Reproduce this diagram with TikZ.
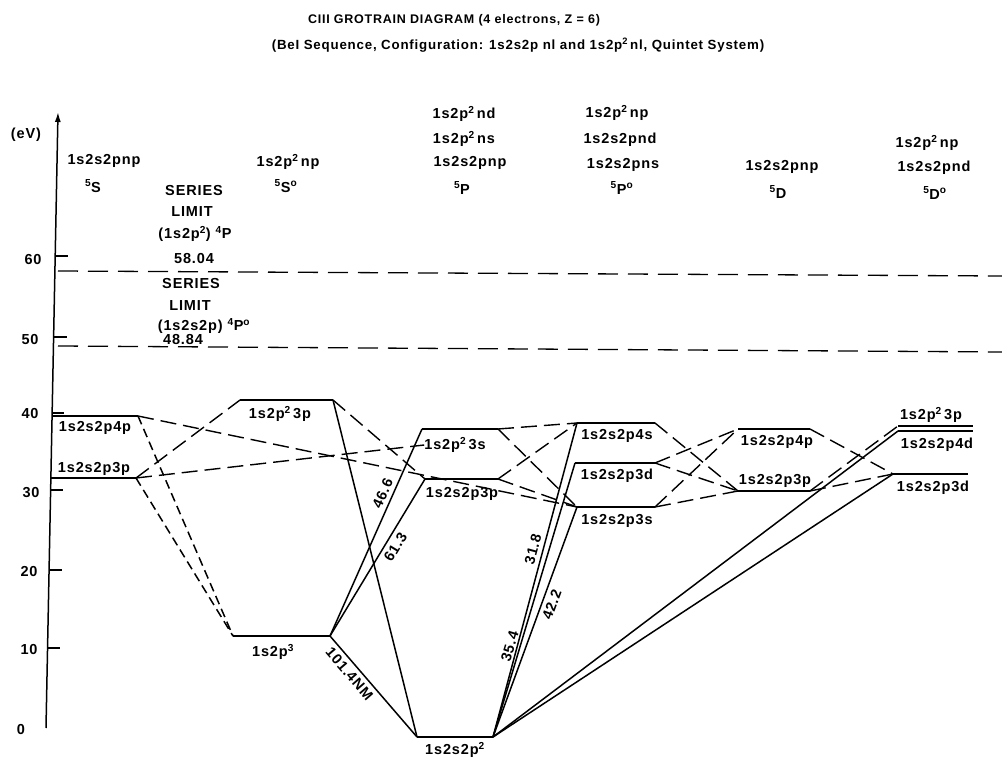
\documentclass[tikz,border=0pt]{standalone}
\usepackage{fontspec}
\setmainfont{Liberation Sans}[LetterSpace=6]
\usetikzlibrary{arrows.meta}
\newcommand{\sqd}{\textsuperscript{2}}
\newcommand{\up}[1]{\textsuperscript{#1}}
\begin{document}
\begin{tikzpicture}[x=1pt,y=-1pt,
  lvl/.style={line width=2pt},
  trn/.style={line width=1.5pt},
  ldash/.style={line width=1.4pt, dash pattern=on 16pt off 7pt},
  sdash/.style={line width=1.5pt, dash pattern=on 9pt off 5pt},
  lim/.style={line width=1.3pt, dash pattern=on 20pt off 10pt},
  lab/.style={font=\fontsize{14.5}{16}\selectfont\bfseries, inner sep=0pt},
  ttl/.style={font=\fontsize{12.5}{14}\selectfont\bfseries, inner sep=0pt},
  wl/.style={font=\fontsize{14.5}{16}\selectfont\bfseries, inner sep=4pt, sloped},
  tick/.style={line width=1.3pt}]
\useasboundingbox (0,0) rectangle (1002,759);
% titles
\node[ttl] (t1) at (454,20) {CIII GROTRAIN DIAGRAM (4 electrons, Z = 6)};
\node[ttl, font=\fontsize{13.3}{15}\selectfont\bfseries] (t2) at (518,45) {(BeI Sequence, Configuration: 1s2s2p nl and 1s2p\sqd\,nl, Quintet System)};
% axis
\coordinate (axB) at (46,728);
\coordinate (axT) at (58,112);
\draw[line width=1.5pt,-{Latex[length=10pt,width=6pt]}] (axB) -- (axT);
\node[lab] (eV) at (26,135) {(eV)};
\draw[tick] (55,256) -- (68,256); \node[lab] (y60) at (33,260) {60};
\draw[tick] (54,337) -- (67,337); \node[lab] (y50) at (30,340) {50};
\draw[line width=2.2pt] (52,413) -- (64,413); \node[lab] (y40) at (30,414) {40};
\draw[tick] (51,490) -- (63,490); \node[lab] (y30) at (31,493) {30};
\draw[tick] (49,570) -- (62,570); \node[lab] (y20) at (29,572) {20};
\draw[tick] (48,648) -- (60,648); \node[lab] (y10) at (29,650) {10};
\node[lab] (y0) at (21,730) {0};
% series limits
\coordinate (limAL) at (58,271); \coordinate (limAR) at (1002,276);
\coordinate (limBL) at (58,346); \coordinate (limBR) at (1002,352);
\draw[lim] (limAL) -- (limAR);
\draw[lim] (limBL) -- (limBR);
\node[lab] (sl1a) at (194,191) {SERIES};
\node[lab] (sl1b) at (192,212) {LIMIT};
\node[lab] (sl1c) at (195,234) {(1s2p\sqd) \up{4}P};
\node[lab] (sl1d) at (194,259) {58.04};
\node[lab] (sl2a) at (191,284) {SERIES};
\node[lab] (sl2b) at (190,306) {LIMIT};
\node[lab] (sl2c) at (204,326) {(1s2s2p) \up{4}P\up{o}};
\node[lab] (sl2d) at (183,340) {48.84};
% column headers
\node[lab] (h1a) at (104,161) {1s2s2pnp};
\node[lab] (h1b) at (93,186) {\up{5}S};
\node[lab] (h2a) at (288,162) {1s2p\sqd\,np};
\node[lab] (h2b) at (286,186) {\up{5}S\up{o}};
\node[lab] (h3a) at (464,114) {1s2p\sqd\,nd};
\node[lab] (h3b) at (464,139) {1s2p\sqd\,ns};
\node[lab] (h3c) at (470,163) {1s2s2pnp};
\node[lab] (h3d) at (462,188) {\up{5}P};
\node[lab] (h4a) at (617,113) {1s2p\sqd\,np};
\node[lab] (h4b) at (620,140) {1s2s2pnd};
\node[lab] (h4c) at (623,165) {1s2s2pns};
\node[lab] (h4d) at (622,188) {\up{5}P\up{o}};
\node[lab] (h5a) at (782,167) {1s2s2pnp};
\node[lab] (h5b) at (778,192) {\up{5}D};
\node[lab] (h6a) at (927,143) {1s2p\sqd\,np};
\node[lab] (h6b) at (934,168) {1s2s2pnd};
\node[lab] (h6c) at (935,193) {\up{5}D\up{o}};
% level end points
\coordinate (s4pL) at (52,416); \coordinate (s4pR) at (138,416);
\coordinate (s3pL) at (51,478); \coordinate (s3pR) at (136,478);
\coordinate (o3pL) at (240,400); \coordinate (o3pR) at (333,400);
\coordinate (o2pL) at (233,636); \coordinate (o2pR) at (330,636);
\coordinate (p3sL) at (422,429); \coordinate (p3sR) at (498,429);
\coordinate (p3pL) at (425,479); \coordinate (p3pR) at (498,479);
\coordinate (gL) at (417,737); \coordinate (gR) at (493,737);
\coordinate (q4sL) at (577,423); \coordinate (q4sR) at (655,423);
\coordinate (q3dL) at (575,463); \coordinate (q3dR) at (655,463);
\coordinate (q3sL) at (577,507); \coordinate (q3sR) at (655,507);
\coordinate (d4pL) at (738,429); \coordinate (d4pR) at (810,429);
\coordinate (d3pL) at (738,491); \coordinate (d3pR) at (810,491);
\coordinate (e3pL) at (898,426); \coordinate (e3pR) at (973,426);
\coordinate (e4dL) at (898,431); \coordinate (e4dR) at (973,431);
\coordinate (e3dL) at (893,474); \coordinate (e3dR) at (968,474);
% levels
\foreach \a in {s4p,s3p,o3p,o2p,p3s,p3p,g,q4s,q3d,q3s,d4p,d3p,e3p,e4d,e3d}
  \draw[lvl] (\a L) -- (\a R);
% level labels
\node[lab] (s4pT) at (95,428) {1s2s2p4p};
\node[lab] (s3pT) at (94,469) {1s2s2p3p};
\node[lab] (o3pT) at (280,414) {1s2p\sqd\,3p};
\node[lab] (o2pT) at (273,652) {1s2p\up{3}};
\node[lab] (p3sT) at (455,445) {1s2p\sqd\,3s};
\node[lab] (p3pT) at (462,494) {1s2s2p3p};
\node[lab] (gT) at (455,750) {1s2s2p\sqd};
\node[lab] (q4sT) at (617,436) {1s2s2p4s};
\node[lab] (q3dT) at (617,476) {1s2s2p3d};
\node[lab] (q3sT) at (617,521) {1s2s2p3s};
\node[lab] (d4pT) at (777,442) {1s2s2p4p};
\node[lab] (d3pT) at (775,481) {1s2s2p3p};
\node[lab] (e3pT) at (931,415) {1s2p\sqd\,3p};
\node[lab] (e4dT) at (937,445) {1s2s2p4d};
\node[lab] (e3dT) at (933,488) {1s2s2p3d};
% solid transitions
\draw[trn] (o2pR) -- node[wl,above,pos=0.67] {46.6} (p3sL);
\draw[trn] (o2pR) -- node[wl,below,pos=0.6] {61.3} (p3pL);
\draw[trn] (o2pR) -- node[wl,below,pos=0.31] {101.4NM} (gL);
\draw[trn] (o3pR) -- (gL);
\draw[trn] (gR) -- node[wl,above,pos=0.59] {31.8} (q4sL);
\draw[trn] (gR) -- node[wl,above,pos=0.32] {35.4} (q3dL);
\draw[trn] (gR) -- node[wl,below,pos=0.59] {42.2} (q3sL);
\draw[trn] (gR) -- (e4dL);
\draw[trn] (gR) -- (e3dL);
% dashed transitions
\draw[sdash] (s4pR) -- (o2pL);
\draw[sdash] (s3pR) -- (o2pL);
\draw[ldash] (s3pR) -- (o3pL);
\draw[ldash] (s4pR) -- (q3sL);
\draw[ldash] (s3pR) -- (p3sT.west);
\draw[ldash] (o3pR) -- (p3pL);
\draw[ldash] (p3sR) -- (q4sL);
\draw[ldash] (p3sR) -- (q3sL);
\draw[ldash] (p3pR) -- (q4sL);
\draw[ldash] (p3pR) -- (q3sL);
\draw[ldash] (q4sR) -- (d3pL);
\draw[ldash] (q3dR) -- (d4pL);
\draw[ldash] (q3dR) -- (d3pL);
\draw[ldash] (q3sR) -- (d4pL);
\draw[ldash] (q3sR) -- (d3pL);
\draw[ldash] (d4pR) -- (e3dL);
\draw[ldash] (d3pR) -- (e3pL);
\draw[ldash] (d3pR) -- (e3dL);
\end{tikzpicture}
\end{document}
